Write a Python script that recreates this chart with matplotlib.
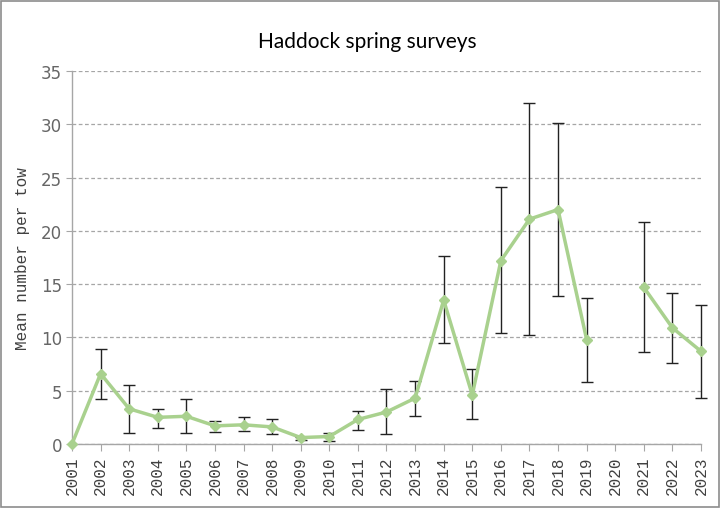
import numpy as np
import matplotlib
matplotlib.use("Agg")
import matplotlib.pyplot as plt
from matplotlib.patches import Rectangle

# Survey data
years = [str(y) for y in range(2001, 2024)]
mean_per_tow = [0.0, 6.6, 3.3, 2.5, 2.6, 1.7, 1.8, 1.6, 0.6, 0.7, 2.3, 3.0, 4.3,
                13.5, 4.6, 17.2, 21.1, 22.0, 9.8, np.nan, 14.7, 10.9, 8.7]
err_low = [np.nan, 4.2, 1.0, 1.5, 1.0, 1.1, 1.2, 0.9, 0.4, 0.3, 1.3, 0.9, 2.6,
           9.5, 2.3, 10.4, 10.2, 13.9, 5.85, np.nan, 8.6, 7.6, 4.3]
err_high = [np.nan, 8.9, 5.5, 3.3, 4.2, 2.2, 2.5, 2.3, 0.7, 1.0, 3.1, 5.2, 5.9,
            17.6, 7.0, 24.1, 32.0, 30.1, 13.7, np.nan, 20.8, 14.2, 13.0]

x = np.arange(len(years))
y = np.array(mean_per_tow)
lo = y - np.array(err_low)
hi = np.array(err_high) - y

fig = plt.figure(figsize=(7.2, 5.1), dpi=100)
ax = fig.add_axes([0.1, 0.1275, 0.8736, 0.7313])

# Error bars first, then the line on top
eb = ax.errorbar(x, y, yerr=[lo, hi], fmt='none', ecolor='#222222', elinewidth=1,
                 capsize=4, capthick=1, zorder=2)
for art in eb.lines[1] + eb.lines[2]:
    art.set_clip_on(False)
ax.plot(x, y, color='#a9d18e', lw=2.5, marker='D', markersize=5,
        markerfacecolor='#a9d18e', markeredgecolor='#a9d18e', zorder=3,
        clip_on=False)

ax.set_xlim(0, len(years) - 1)
ax.set_ylim(0, 35)
ax.set_yticks(range(0, 36, 5))
ax.set_xticks(x)
ax.set_xticklabels(years, rotation=90, family='Liberation Mono', fontsize=11.5,
                   color='#404040')
for lab in ax.get_yticklabels():
    lab.set_family(['Liberation Sans Narrow', 'DejaVu Sans'])
    lab.set_fontsize(12)
    lab.set_color('#666666')

ax.yaxis.grid(True, linestyle=(0, (3, 2)), color='#a6a6a6', lw=0.9)
ax.set_axisbelow(True)
for s in ['top', 'right']:
    ax.spines[s].set_visible(False)
for s in ['left', 'bottom']:
    ax.spines[s].set_color('#a6a6a6')
    ax.spines[s].set_linewidth(1)
ax.tick_params(axis='x', length=5, color='#a6a6a6', pad=3)
ax.tick_params(axis='y', length=4, color='#a6a6a6', pad=3)

ax.set_ylabel('Mean number per tow', family='Liberation Mono', fontsize=11.5,
              color='#404040', labelpad=8)
fig.text(0.51, 0.917, 'Haddock spring surveys', ha='center', va='center',
         family=['Lato', 'DejaVu Sans'], fontsize=15, color='#000000')

# Grey border around the whole chart
fig.patches.append(Rectangle((0.002, 0.003), 0.996, 0.994, transform=fig.transFigure,
                             fill=False, edgecolor='#8c8c8c', lw=1.2))

fig.savefig('out.png', dpi=100)
